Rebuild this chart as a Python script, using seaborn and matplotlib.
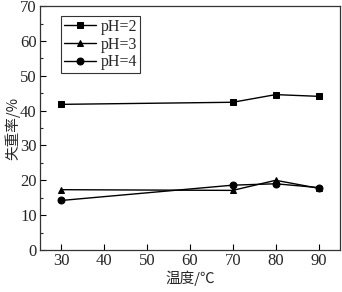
import pandas as pd
import matplotlib
matplotlib.use('Agg')
import matplotlib.pyplot as plt
import seaborn as sns
from matplotlib.ticker import MultipleLocator

sns.set_style('ticks')
plt.rcParams['font.family'] = ['Liberation Serif', 'Noto Sans CJK SC']

temps = [30, 70, 80, 90]
ph2 = [41.8, 42.4, 44.6, 44.1]
ph3 = [17.3, 17.1, 20.0, 17.7]
ph4 = [14.2, 18.6, 19.0, 17.9]
series_labels = ['pH=2', 'pH=3', 'pH=4']
markers = ['s', '^', 'o']

df = pd.DataFrame({
    'temp': temps * 3,
    'loss': ph2 + ph3 + ph4,
    'ph': [l for l in series_labels for _ in temps],
})

fig = plt.figure(figsize=(3.42, 2.92), dpi=100)
ax = fig.add_axes([0.1155, 0.144, 0.879, 0.835])

for lab, mk in zip(series_labels, markers):
    sub = df[df['ph'] == lab]
    sns.lineplot(data=sub, x='temp', y='loss', ax=ax, color='black', lw=1.0,
                 marker=mk, markersize=5, markeredgecolor='black', label=lab)

ax.set_xlim(25, 95)
ax.set_ylim(0, 70)
ax.xaxis.set_major_locator(MultipleLocator(10))
ax.yaxis.set_major_locator(MultipleLocator(10))
ax.yaxis.set_minor_locator(MultipleLocator(5))
ax.tick_params(direction='in', labelsize=12, length=4, width=0.8, color='black', pad=2)
ax.tick_params(which='minor', direction='in', length=2.5, width=0.8)
for s in ax.spines.values():
    s.set_linewidth(0.9)
    s.set_color('#333333')

ax.set_xlabel('温度/℃', fontsize=10.5, family=['Noto Sans CJK SC', 'DejaVu Sans'], labelpad=1)
ax.set_ylabel('失重率/%', fontsize=10.5, family=['Noto Sans CJK SC', 'DejaVu Sans'], labelpad=0)

leg = ax.legend(loc='upper left', bbox_to_anchor=(0.07, 0.96), fontsize=11.5,
                frameon=True, fancybox=False, edgecolor='black', handlelength=2.0,
                handletextpad=0.3, borderpad=0.2, labelspacing=0.1, borderaxespad=0)
leg.get_frame().set_linewidth(0.8)

fig.savefig('out.png', dpi=100)
